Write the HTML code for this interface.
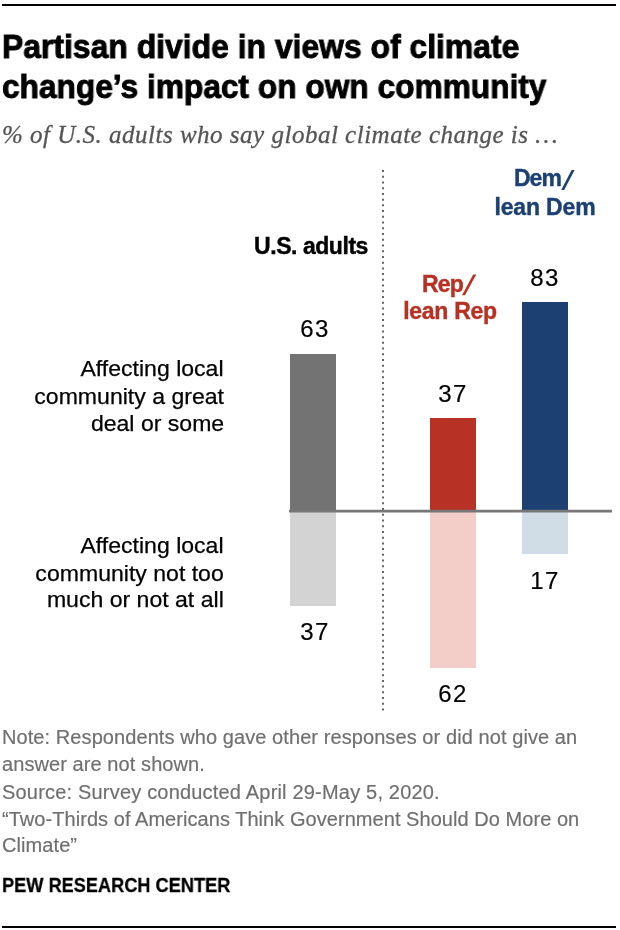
<!DOCTYPE html>
<html><head><meta charset="utf-8">
<style>
html,body{margin:0;padding:0;background:#fff;}
body{width:620px;height:930px;position:relative;overflow:hidden;font-family:"Liberation Sans",sans-serif;}
.t{position:absolute;white-space:nowrap;line-height:1;will-change:transform;}
.bar{position:absolute;}
</style></head><body>
<div style="position:absolute;left:2px;top:4px;width:614px;height:2px;background:#000"></div>

<div class="t" style="left:2px;top:30px;font-size:33px;font-weight:bold;color:#000;-webkit-text-stroke:0.9px #000;transform:scaleX(0.966);transform-origin:0 0">Partisan divide in views of climate</div>
<div class="t" style="left:2px;top:70px;font-size:33px;font-weight:bold;color:#000;-webkit-text-stroke:0.9px #000;transform:scaleX(0.96);transform-origin:0 0">change’s impact on own community</div>

<div class="t" style="left:2px;top:121.5px;font-size:25px;font-style:italic;font-family:'Liberation Serif',serif;color:#555;letter-spacing:0.5px;-webkit-text-stroke:0.3px #555">% of U.S. adults who say global climate change is …</div>

<!-- dotted divider -->
<svg style="position:absolute;left:0;top:0" width="620" height="930">
  <line x1="383" y1="170" x2="383" y2="711" stroke="#666" stroke-width="2" stroke-dasharray="2 3.729"/>
</svg>

<!-- bars -->
<div class="bar" style="left:290px;top:354px;width:46px;height:157px;background:#737373"></div>
<div class="bar" style="left:290px;top:511px;width:46px;height:95px;background:#d3d3d3"></div>
<div class="bar" style="left:430px;top:418px;width:46px;height:93px;background:#b73224"></div>
<div class="bar" style="left:430px;top:511px;width:46px;height:157px;background:#f3cdc8"></div>
<div class="bar" style="left:522px;top:302px;width:46px;height:209px;background:#1c4072"></div>
<div class="bar" style="left:522px;top:511px;width:46px;height:43px;background:#d0dde6"></div>
<svg style="position:absolute;left:0;top:0" width="620" height="930"><line x1="289" y1="511.1" x2="612" y2="511.1" stroke="#777" stroke-width="2.6"/></svg>

<!-- group labels -->
<div class="t" style="left:211px;width:200px;text-align:center;top:234.5px;font-size:23px;letter-spacing:-0.45px;font-weight:bold;color:#000;-webkit-text-stroke:0.4px #000">U.S. adults</div>
<div class="t" style="left:421.5px;top:272.5px;font-size:23px;letter-spacing:-0.8px;font-weight:bold;color:#b73224;-webkit-text-stroke:0.4px #b73224">Rep</div>
<svg style="position:absolute;left:0;top:0" width="620" height="930"><polygon points="462,295.2 465,295.2 476.2,274.5 473.2,274.5" fill="#b73224"/><polygon points="561.2,189.9 564.2,189.9 574.6,169.9 571.6,169.9" fill="#1c4072"/></svg>
<div class="t" style="left:350px;width:200px;text-align:center;top:299.5px;font-size:23px;letter-spacing:-0.3px;font-weight:bold;color:#b73224;-webkit-text-stroke:0.4px #b73224">lean Rep</div>
<div class="t" style="left:513.5px;top:167px;font-size:23px;letter-spacing:-1px;font-weight:bold;color:#1c4072;-webkit-text-stroke:0.4px #1c4072">Dem</div>
<div class="t" style="left:445px;width:200px;text-align:center;top:196px;font-size:23px;letter-spacing:-0.15px;font-weight:bold;color:#1c4072;-webkit-text-stroke:0.4px #1c4072">lean Dem</div>

<!-- values -->
<div class="t" style="left:264.5px;width:100px;text-align:center;top:316.5px;font-size:24px;letter-spacing:1.5px;color:#000;-webkit-text-stroke:0.2px #000">63</div>
<div class="t" style="left:264.5px;width:100px;text-align:center;top:620px;font-size:24px;letter-spacing:1.5px;color:#000;-webkit-text-stroke:0.2px #000">37</div>
<div class="t" style="left:403px;width:100px;text-align:center;top:382px;font-size:24px;letter-spacing:1.5px;color:#000;-webkit-text-stroke:0.2px #000">37</div>
<div class="t" style="left:403px;width:100px;text-align:center;top:682px;font-size:24px;letter-spacing:1.5px;color:#000;-webkit-text-stroke:0.2px #000">62</div>
<div class="t" style="left:495px;width:100px;text-align:center;top:266px;font-size:24px;letter-spacing:1.5px;color:#000;-webkit-text-stroke:0.2px #000">83</div>
<div class="t" style="left:495px;width:100px;text-align:center;top:569px;font-size:24px;letter-spacing:1.5px;color:#000;-webkit-text-stroke:0.2px #000">17</div>

<!-- row labels -->
<div class="t" style="right:396px;text-align:right;top:358px;font-size:22px;color:#000;-webkit-text-stroke:0.25px #000;transform:scaleX(1.048);transform-origin:100% 0">Affecting local</div>
<div class="t" style="right:396px;text-align:right;top:386px;font-size:22px;color:#000;-webkit-text-stroke:0.25px #000;transform:scaleX(1.048);transform-origin:100% 0">community a great</div>
<div class="t" style="right:396px;text-align:right;top:412.5px;font-size:22px;color:#000;-webkit-text-stroke:0.25px #000;transform:scaleX(1.048);transform-origin:100% 0">deal or some</div>
<div class="t" style="right:396px;text-align:right;top:535px;font-size:22px;color:#000;-webkit-text-stroke:0.25px #000;transform:scaleX(1.048);transform-origin:100% 0">Affecting local</div>
<div class="t" style="right:396px;text-align:right;top:562.5px;font-size:22px;color:#000;-webkit-text-stroke:0.25px #000;transform:scaleX(1.048);transform-origin:100% 0">community not too</div>
<div class="t" style="right:396px;text-align:right;top:589px;font-size:22px;color:#000;-webkit-text-stroke:0.25px #000;transform:scaleX(1.048);transform-origin:100% 0">much or not at all</div>

<!-- footer -->
<div class="t" style="left:2px;top:727px;font-size:20px;color:#707070;letter-spacing:0.08px;-webkit-text-stroke:0.2px #707070">Note: Respondents who gave other responses or did not give an</div>
<div class="t" style="left:2px;top:754px;font-size:20px;color:#707070;letter-spacing:0.08px;-webkit-text-stroke:0.2px #707070">answer are not shown.</div>
<div class="t" style="left:2px;top:782px;font-size:20px;color:#707070;letter-spacing:0.19px;-webkit-text-stroke:0.2px #707070">Source: Survey conducted April 29-May 5, 2020.</div>
<div class="t" style="left:2px;top:809px;font-size:20px;color:#707070;letter-spacing:0.05px;-webkit-text-stroke:0.2px #707070">“Two-Thirds of Americans Think Government Should Do More on</div>
<div class="t" style="left:2px;top:834.5px;font-size:20px;color:#707070;letter-spacing:0.08px;-webkit-text-stroke:0.2px #707070">Climate”</div>

<div class="t" style="left:2px;top:874px;font-size:21px;font-weight:bold;color:#000;-webkit-text-stroke:0.3px #000;transform:scaleX(0.866);transform-origin:0 0">PEW RESEARCH CENTER</div>
<div style="position:absolute;left:2px;top:926px;width:614px;height:2px;background:#000"></div>
</body></html>
